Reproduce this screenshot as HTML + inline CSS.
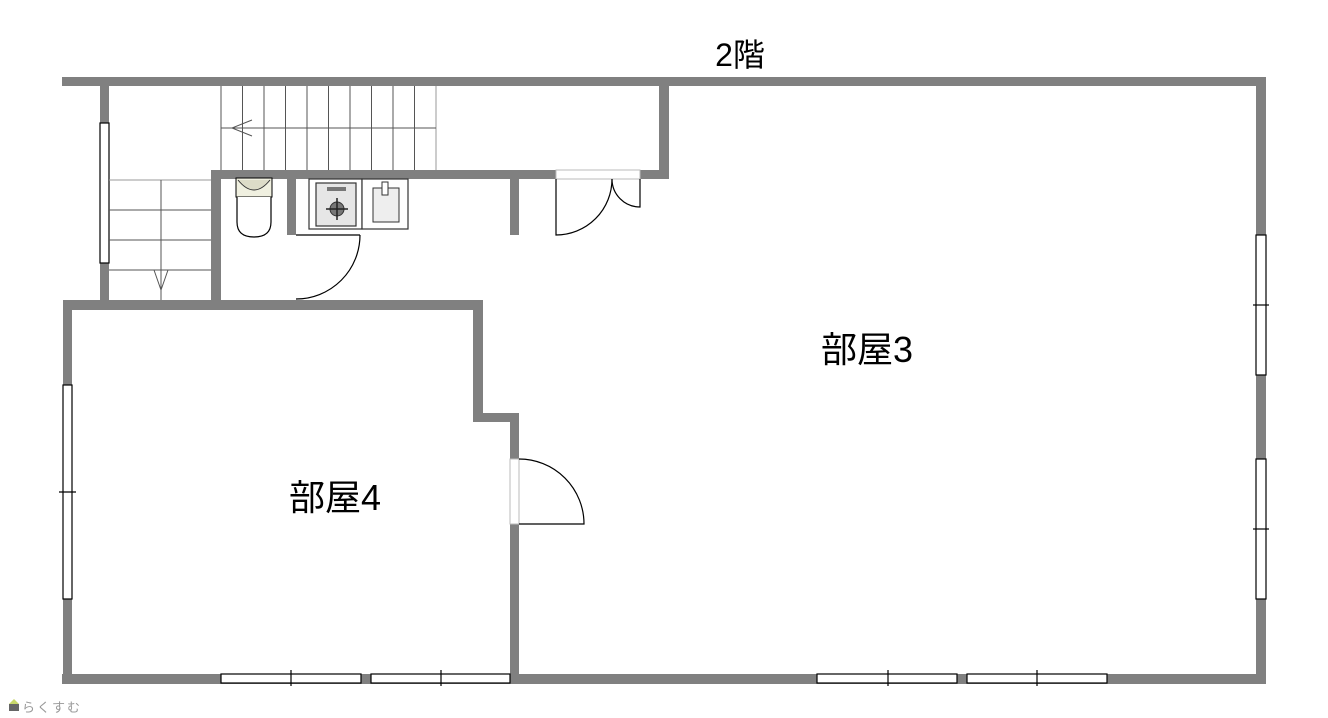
<!DOCTYPE html>
<html><head><meta charset="utf-8"><style>
html,body{margin:0;padding:0;background:#fff;width:1328px;height:718px;overflow:hidden}
svg{display:block}
text{font-family:"Liberation Sans","Noto Sans CJK JP",sans-serif}
</style></head><body>
<svg width="1328" height="718" viewBox="0 0 1328 718" xmlns="http://www.w3.org/2000/svg">
<g fill="#808080">
<!-- outer top -->
<rect x="62" y="77" width="1204" height="9"/>
<!-- right wall -->
<rect x="1256" y="77" width="10" height="607"/>
<!-- bottom -->
<rect x="62" y="674" width="1204" height="10"/>
<!-- room4 left -->
<rect x="63" y="300" width="9" height="384"/>
<!-- left small wall -->
<rect x="100" y="77" width="9" height="231"/>
<!-- upper stair right wall -->
<rect x="659" y="77" width="10" height="102"/>
<!-- partition -->
<rect x="211" y="170" width="458" height="9"/>
<!-- vertical wall -->
<rect x="211" y="170" width="10" height="138"/>
<!-- stubs -->
<rect x="287" y="179" width="9" height="56"/>
<rect x="510" y="179" width="9" height="56"/>
<!-- room4 top -->
<rect x="63" y="300" width="420" height="10"/>
<rect x="473" y="300" width="10" height="122"/>
<rect x="473" y="413" width="46" height="9"/>
<rect x="510" y="413" width="9" height="271"/>
</g>
<!-- door gaps / windows -->
<g fill="#fff" stroke="#000" stroke-width="1.2">
<rect x="100" y="123" width="9" height="140"/>
<rect x="63" y="385" width="9" height="214"/>
<rect x="221" y="674" width="140" height="9"/>
<rect x="371" y="674" width="139" height="9"/>
<rect x="817" y="674" width="140" height="9"/>
<rect x="967" y="674" width="140" height="9"/>
<rect x="1256" y="235" width="10" height="140"/>
<rect x="1256" y="459" width="10" height="140"/>
</g>
<g stroke="#000" stroke-width="1.2">
<line x1="59" y1="492" x2="76" y2="492"/>
<line x1="291" y1="670" x2="291" y2="686"/>
<line x1="441" y1="670" x2="441" y2="686"/>
<line x1="888" y1="670" x2="888" y2="686"/>
<line x1="1037" y1="670" x2="1037" y2="686"/>
<line x1="1253" y1="305" x2="1269" y2="305"/>
<line x1="1253" y1="529" x2="1269" y2="529"/>
</g>
<rect x="556" y="170" width="84" height="9" fill="#fff" stroke="#bbb" stroke-width="1"/>
<rect x="510" y="459" width="9" height="65" fill="#fff" stroke="#bbb" stroke-width="1"/>
<!-- stairs top -->
<g stroke="#555" stroke-width="1" fill="none">
<line x1="221" y1="86" x2="221" y2="170"/>
<line x1="242.5" y1="86" x2="242.5" y2="170"/>
<line x1="264" y1="86" x2="264" y2="170"/>
<line x1="285.5" y1="86" x2="285.5" y2="170"/>
<line x1="307" y1="86" x2="307" y2="170"/>
<line x1="328.5" y1="86" x2="328.5" y2="170"/>
<line x1="350" y1="86" x2="350" y2="170"/>
<line x1="371.5" y1="86" x2="371.5" y2="170"/>
<line x1="393" y1="86" x2="393" y2="170"/>
<line x1="414.5" y1="86" x2="414.5" y2="170"/>
<line x1="436" y1="86" x2="436" y2="170" stroke="#999"/>
<line x1="221" y1="128" x2="436" y2="128"/>
<polyline points="252,120 232,128 252,136"/>
<!-- stairs left -->
<line x1="109" y1="180" x2="211" y2="180" stroke="#999"/>
<line x1="109" y1="210" x2="211" y2="210"/>
<line x1="109" y1="240" x2="211" y2="240"/>
<line x1="109" y1="270" x2="211" y2="270"/>
<line x1="161" y1="180" x2="161" y2="300"/>
<polyline points="154,270 161,290 168,270"/>
</g>
<!-- toilet -->
<rect x="236" y="178" width="36" height="19" fill="#f0f0e0" stroke="#000" stroke-width="1"/>
<path d="M238,180 Q254,200 270,180" fill="#dddcc8" stroke="#333" stroke-width="1"/>
<path d="M237,197 L237,222 Q237,237 254,237 Q271,237 271,222 L271,197" fill="#fff" stroke="#000" stroke-width="1.2"/>
<!-- stove -->
<rect x="309" y="179" width="53" height="50" fill="#fff" stroke="#333" stroke-width="1.2"/>
<rect x="316" y="183" width="40" height="43" fill="#e6e6e6" stroke="#333" stroke-width="1.2"/>
<rect x="327" y="187" width="19" height="4" fill="#777"/>
<circle cx="337" cy="209" r="7" fill="#777" stroke="#333"/>
<g stroke="#222" stroke-width="1.5"><line x1="337" y1="198" x2="337" y2="220"/><line x1="326" y1="209" x2="348" y2="209"/></g>
<!-- sink -->
<rect x="362" y="179" width="46" height="50" fill="#fff" stroke="#333" stroke-width="1.2"/>
<rect x="373" y="188" width="26" height="34" fill="#eee" stroke="#333" stroke-width="1"/>
<rect x="382" y="182" width="6" height="13" fill="#fff" stroke="#333" stroke-width="1"/>
<!-- doors -->
<g fill="none" stroke="#000" stroke-width="1.2">
<path d="M296,235 L360,235 M360,235 A64,64 0 0 1 296,299"/>
<path d="M556,179 L556,235 A56,56 0 0 0 612,179"/>
<path d="M640,179 L640,207 A28,28 0 0 1 612,179"/>
<path d="M519,524 L584,524 A65,65 0 0 0 519,459"/>
</g>
<text x="740" y="66" font-size="32" text-anchor="middle" fill="#000">2階</text>
<text x="821" y="362" font-size="36" fill="#000">部屋3</text>
<text x="289" y="510" font-size="36" fill="#000">部屋4</text>
<path d="M9,704 L14,699 L19,704 Z" fill="#c8d86a"/>
<rect x="9" y="704" width="10" height="7" fill="#666"/>
<text x="22" y="712" font-size="13" fill="#999" letter-spacing="2">らくすむ</text>
</svg>
</body></html>
